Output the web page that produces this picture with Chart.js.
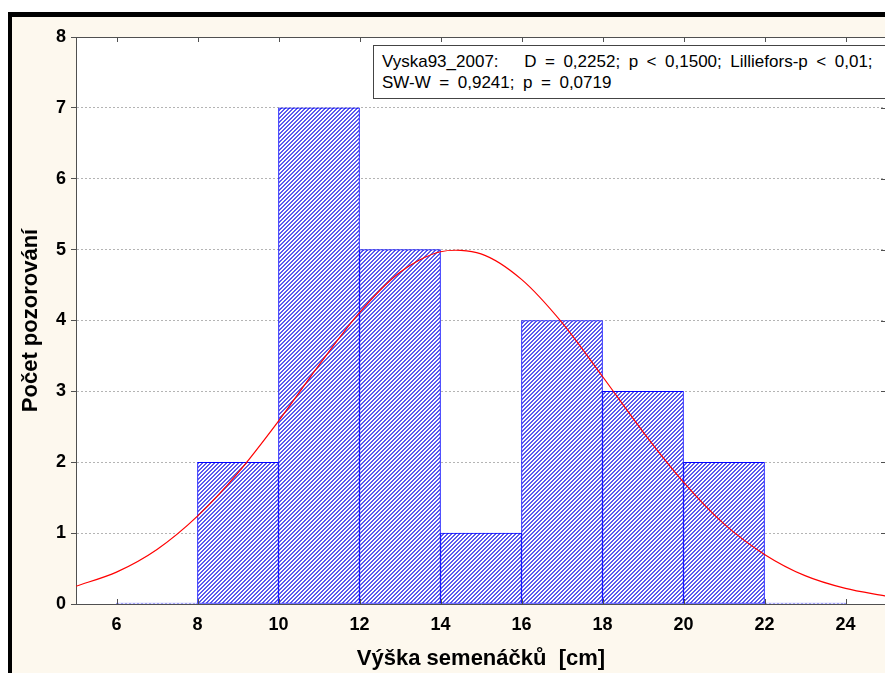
<!DOCTYPE html>
<html>
<head>
<meta charset="utf-8">
<script src="https://cdn.jsdelivr.net/npm/chart.js@4.4.0/dist/chart.umd.min.js"></script>
<style>
  body { margin: 0; background: #fff; overflow: hidden; width: 885px; height: 673px; position: relative; font-family: "Liberation Sans", Arial, sans-serif; }
  #frame { position: absolute; left: 8px; top: 12px; width: 900px; height: 700px; border-left: 4px solid #000; border-top: 5px solid #000; background: #fdf8ee; }
  #wrap { position: absolute; left: 0; top: 0; width: 900px; height: 673px; }
  #stats { position: absolute; left: 373px; top: 45px; width: 560px; height: 47px; padding-top: 5px; padding-left: 8px;
           border: 1px solid #444; background: #fff; font-size: 17px; line-height: 21px; word-spacing: 3.8px; white-space: pre; color: #000; }
</style>
</head>
<body>
<div id="frame"></div>
<div id="wrap"><canvas id="histChart"></canvas></div>
<div id="stats">Vyska93_2007:   D = 0,2252; p &lt; 0,1500; Lilliefors-p &lt; 0,01;
SW-W = 0,9241; p = 0,0719</div>
<script>
// histogram bins (2 cm wide)
const binCenters = [7, 9, 11, 13, 15, 17, 19, 21, 23];
const counts = [0, 2, 7, 5, 1, 4, 3, 2, 0];

// expected normal curve
const curveX = [5, 6, 7, 8, 9, 10, 11, 12, 13, 14, 15, 16, 17, 18, 19, 20, 21, 22, 23, 24, 25];
const curveY = [0.25, 0.45, 0.77, 1.24, 1.85, 2.58, 3.37, 4.11, 4.68, 4.97, 4.94, 4.58, 3.97, 3.21, 2.43, 1.72, 1.13, 0.70, 0.40, 0.22, 0.11];

const xTicks = [6, 8, 10, 12, 14, 16, 18, 20, 22, 24];
const yTicks = [0, 1, 2, 3, 4, 5, 6, 7, 8];

function hatch() {
    const c = document.createElement("canvas");
    c.width = 4; c.height = 4;
    const g = c.getContext("2d");
    g.fillStyle = "#fff";
    g.fillRect(0, 0, 4, 4);
    g.fillStyle = "#5a5aee";
    for (let x = 0; x < 4; x++) {
        for (let y = 0; y < 4; y++) {
            if ((x + y) % 4 === 0 || (x + y) % 4 === 1) g.fillRect(x, y, 1, 1);
        }
    }
    return g.createPattern(c, "repeat");
}

const axisColor = "#505050";

const plotFrame = {
    id: "plotFrame",
    beforeDraw(chart) {
        const { ctx, chartArea: a } = chart;
        ctx.save();
        ctx.fillStyle = "#fff";
        ctx.fillRect(a.left, a.top, a.right - a.left, a.bottom - a.top);
        ctx.restore();
    },
    afterDraw(chart) {
        const { ctx, chartArea: a } = chart;
        const xs = chart.scales.x, ys = chart.scales.y;
        ctx.save();
        ctx.strokeStyle = axisColor;
        ctx.lineWidth = 1;
        ctx.beginPath();
        ctx.moveTo(a.left, a.top + 0.5);
        ctx.lineTo(a.right, a.top + 0.5);
        ctx.moveTo(a.right - 0.5, a.top);
        ctx.lineTo(a.right - 0.5, a.bottom);
        xTicks.forEach(v => {
            const px = Math.round(xs.getPixelForValue(v)) + 0.5;
            ctx.moveTo(px, a.top);
            ctx.lineTo(px, a.top + 5);
            ctx.moveTo(px, a.bottom);
            ctx.lineTo(px, a.bottom - 5);
        });
        yTicks.forEach(v => {
            const py = Math.round(ys.getPixelForValue(v)) + 0.5;
            ctx.moveTo(a.right, py);
            ctx.lineTo(a.right - 5, py);
        });
        ctx.stroke();
        ctx.restore();
    }
};

const ctx = document.getElementById("histChart").getContext("2d");

new Chart(ctx, {
    data: {
        datasets: [
            {
                type: "line",
                data: curveX.map((x, i) => ({ x: x, y: curveY[i] })),
                borderColor: "#ff0000",
                borderWidth: 1.2,
                pointRadius: 0,
                tension: 0.3,
                order: 0
            },
            {
                type: "bar",
                data: binCenters.map((x, i) => ({ x: x, y: counts[i] })),
                backgroundColor: hatch(),
                borderColor: "#0000ff",
                borderWidth: 1,
                borderSkipped: false,
                barPercentage: 1,
                categoryPercentage: 1,
                minBarLength: 1,
                order: 1
            }
        ]
    },
    options: {
        responsive: true,
        maintainAspectRatio: false,
        animation: false,
        layout: { padding: { left: 13, top: 37, right: 14, bottom: 0 } },
        plugins: { legend: { display: false }, tooltip: { enabled: false } },
        scales: {
            x: {
                type: "linear",
                min: 5,
                max: 25,
                offset: false,
                afterBuildTicks: s => { s.ticks = xTicks.map(v => ({ value: v })); },
                afterFit: s => { s.height = 69; },
                grid: { drawOnChartArea: false, drawTicks: false, offset: false },
                border: { color: axisColor, width: 1 },
                ticks: { color: "#000", padding: 10, maxRotation: 0, font: { family: "Liberation Sans", size: 18, weight: "bold" } },
                title: {
                    display: true,
                    text: "Výška semenáčků  [cm]",
                    color: "#000",
                    padding: { top: 0, bottom: 1 },
                    font: { family: "Liberation Sans", size: 22, weight: "bold" }
                }
            },
            y: {
                min: 0,
                max: 8,
                afterBuildTicks: s => { s.ticks = yTicks.map(v => ({ value: v })); },
                afterFit: s => { s.width = 63; },
                grid: { color: "#b4b4b4", tickColor: axisColor, tickLength: 5, tickBorderDash: [] },
                border: { color: axisColor, width: 1, dash: [2, 2] },
                ticks: { color: "#000", padding: 5, font: { family: "Liberation Sans", size: 18, weight: "bold" } },
                title: {
                    display: true,
                    text: "Počet pozorování",
                    color: "#000",
                    padding: { top: 5, bottom: 0 },
                    font: { family: "Liberation Sans", size: 22, weight: "bold" }
                }
            }
        }
    },
    plugins: [plotFrame]
});
</script>
</body>
</html>
